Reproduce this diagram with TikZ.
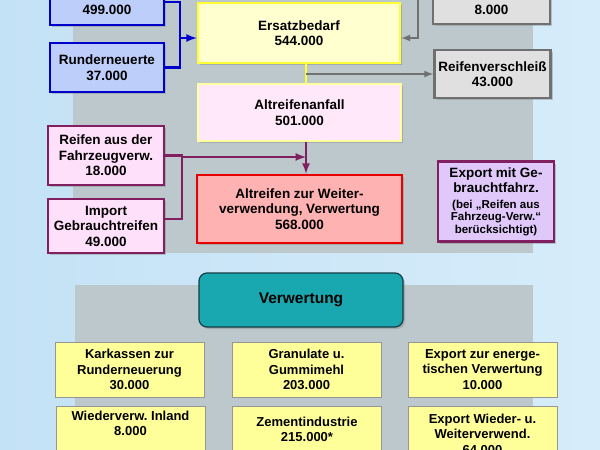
\documentclass[tikz,border=0pt]{standalone}
\usepackage{fontspec}
\setmainfont{Liberation Sans}
\usetikzlibrary{shadows}
\definecolor{bgblau}{RGB}{196,226,246}
\definecolor{bgblauR}{RGB}{214,236,250}
\definecolor{panel}{RGB}{188,200,204}
\definecolor{blaurand}{RGB}{0,0,204}
\definecolor{blaufill}{RGB}{190,206,250}
\definecolor{gelbrand}{RGB}{255,255,51}
\definecolor{gelbfill}{RGB}{255,255,208}
\definecolor{rosafill}{RGB}{255,232,250}
\definecolor{hellgelb}{RGB}{255,255,160}
\definecolor{rotrand}{RGB}{230,0,0}
\definecolor{rotfill}{RGB}{255,178,178}
\definecolor{lila}{RGB}{128,32,96}
\definecolor{lilafill}{RGB}{255,224,250}
\definecolor{violett}{RGB}{224,200,250}
\definecolor{graurand}{RGB}{112,112,112}
\definecolor{graufill}{RGB}{224,224,224}
\definecolor{kgelb}{RGB}{255,255,153}
\definecolor{kgrau}{RGB}{150,150,150}
\definecolor{teal}{RGB}{26,168,176}
\definecolor{tealrand}{RGB}{20,60,70}
\newcommand{\klein}{\fontsize{11.5}{12.5}\selectfont}
\frenchspacing
\begin{document}
\begin{tikzpicture}[x=1pt, y=-1pt, >=latex,
  box/.style={draw, line width=2.5pt, align=center, inner sep=2pt, font=\fontsize{13.5}{15.5}\selectfont\bfseries, drop shadow={shadow xshift=2pt, shadow yshift=-2pt, opacity=0.4}},
  blaubox/.style={box, draw=blaurand, fill=blaufill, minimum width=114pt, minimum height=49pt},
  graubox/.style={box, draw=graurand, fill=graufill, minimum width=116pt, minimum height=48pt},
  lilabox/.style={box, draw=lila, fill=lilafill, minimum width=116pt},
  kbox/.style={draw=kgrau, line width=0.8pt, fill=kgelb, align=center, inner sep=2pt, font=\fontsize{13}{15.5}\selectfont\bfseries, minimum width=149pt, minimum height=55pt},
  blaulinie/.style={draw=blaurand, line width=2.5pt},
  graulinie/.style={draw=graurand, line width=2pt},
  lilalinie/.style={draw=lila, line width=2.5pt}]
  \useasboundingbox (0,0) rectangle (600,450);
  \clip (0,0) rectangle (600,450);
  \shade[left color=bgblau, middle color=white, right color=bgblauR] (0,0) rectangle (600,450);
  \fill[panel] (73,-10) rectangle (533,253);
  \fill[panel] (75,285) rectangle (533,470);

  \node[blaubox, minimum height=46pt] (neu) at (107,2) {Neureifen\\499.000};
  \node[blaubox] (rund) at (107,67.5) {Runderneuerte\\37.000};
  \node[box, draw=gelbrand, fill=gelbfill, minimum width=202pt, minimum height=60pt] (ers) at (299,33) {Ersatzbedarf\\544.000};
  \node[graubox, minimum width=117pt, anchor=south, text height=43pt, text depth=7.5pt] (acht) at (491.5,25) {8.000};
  \node[graubox] (verschl) at (492.5,74) {Reifenverschleiß\\43.000};
  \node[box, line width=2pt, draw=hellgelb, fill=rosafill, minimum width=203pt, minimum height=57pt] (anfall) at (299.5,112.5) {Altreifenanfall\\501.000};
  \node[lilabox, minimum height=59pt] (fzg) at (106,155.5) {Reifen aus der\\Fahrzeugverw.\\18.000};
  \node[lilabox, minimum height=54pt] (imp) at (106,226) {Import\\Gebrauchtreifen\\49.000};
  \node[box, draw=rotrand, fill=rotfill, minimum width=205pt, minimum height=68pt] (weiter) at (299.5,209) {Altreifen zur Weiter-\\verwendung, Verwertung\\568.000};
  \node[lilabox, fill=violett, minimum height=80pt] (expf) at (496,201.5) {Export mit Ge-\\brauchtfahrz.\\{\klein (bei „Reifen aus}\\[-3pt]{\klein Fahrzeug-Verw.“}\\[-3pt]{\klein berücksichtigt)}};

  \coordinate (achse) at (306,0);
  \coordinate (bl) at (180,38);
  \coordinate (gr) at (418,38);
  \coordinate (pu) at (182,157);
  \draw[blaulinie] (neu.east) -| (bl);
  \draw[blaulinie] (rund.east) -| (bl);
  \draw[blaulinie, ->] (bl) -- (bl -| ers.west);
  \draw[graulinie, ->] (acht.west) -| (gr) -- (gr -| ers.east);
  \draw[draw=gelbrand, line width=2.5pt] (ers.south -| achse) -- (anfall.north -| achse);
  \draw[graulinie, ->] (achse |- verschl.west) -- (verschl.west);
  \draw[lilalinie, ->] (anfall.south -| achse) -- (weiter.north -| achse);
  \draw[lilalinie] (fzg.east) -| (pu);
  \draw[lilalinie] ([yshift=7pt]imp.east) -| (pu);
  \draw[lilalinie, ->] (pu) -- (pu -| achse);

  \node[draw=tealrand, line width=1.2pt, fill=teal, rounded corners=8pt, minimum width=204pt, minimum height=54pt, font=\fontsize{15.5}{18}\selectfont\bfseries, drop shadow={shadow xshift=2pt, shadow yshift=-2pt, opacity=0.4}] (verw) at (301,300) {Verwertung};
  \node[kbox] (kark) at (129.5,369.5) {Karkassen zur\\Runderneuerung\\30.000};
  \node[kbox] (gran) at (306.5,369.5) {Granulate u.\\Gummimehl\\203.000};
  \node[kbox] (energ) at (482.5,369.5) {Export zur energe-\\tischen Verwertung\\10.000};
  \node[kbox, anchor=north, text depth=21pt] (inland) at (130.5,406) {Wiederverw. Inland\\8.000};
  \node[kbox, anchor=north, text depth=9pt] (zement) at (307,406) {Zementindustrie\\215.000*};
  \node[kbox, anchor=north] (wieder) at (482.5,406) {Export Wieder- u.\\Weiterverwend.\\64.000};
\end{tikzpicture}
\end{document}
